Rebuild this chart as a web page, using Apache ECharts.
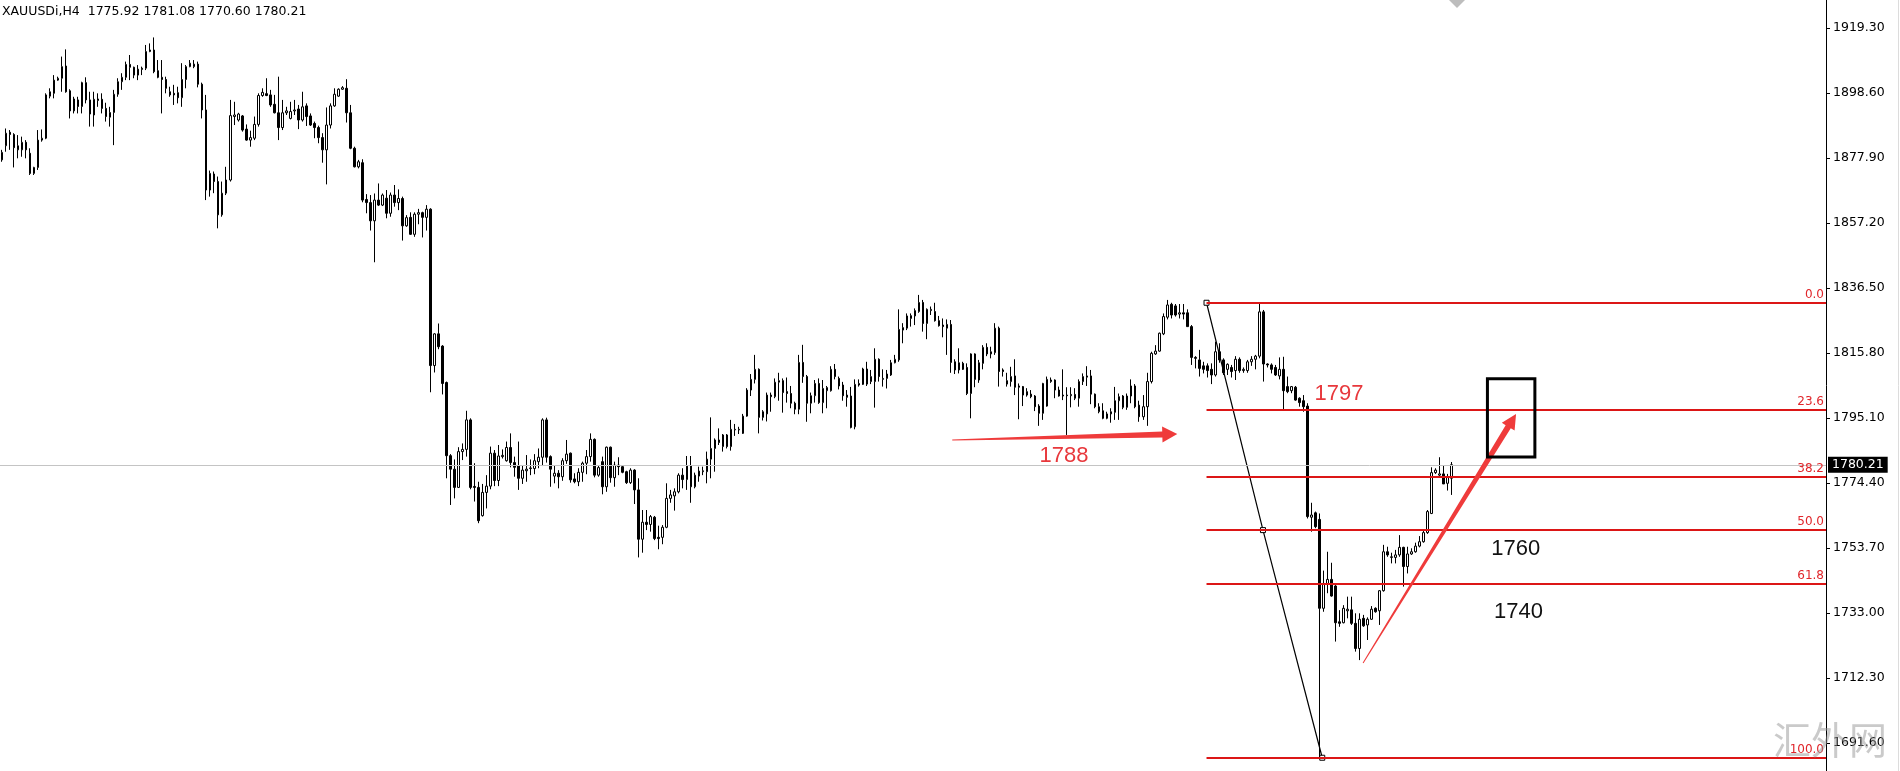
<!DOCTYPE html>
<html>
<head>
<meta charset="utf-8">
<title>XAUUSDi,H4</title>
<script src="https://cdn.jsdelivr.net/npm/echarts@6/dist/echarts.min.js"></script>
<style>
  html, body { margin: 0; padding: 0; background: #fff; }
  #chart { width: 1900px; height: 771px; }
</style>
</head>
<body>
<div id="chart"></div>
<script>
const symbolName = 'XAUUSDi,H4';

// one row per H4 bar: [open, high, low, close]
const candles = [
  [1877.3,1880.5,1876.7,1879.7],[1881.8,1887.3,1879.9,1885.8],[1886.1,1886.8,1880.5,1885.4],[1885.4,1885.8,1874.9,1881.2],[1880.5,1885.2,1877.8,1881.8],
  [1880.5,1884.7,1878.3,1882.9],[1882.9,1883.6,1877.8,1880.5],[1879.4,1881.0,1872.5,1873.0],[1873.0,1875.1,1872.5,1874.9],[1874.9,1886.8,1874.1,1883.6],
  [1883.6,1887.0,1883.1,1884.2],[1884.2,1898.5,1883.9,1898.0],[1897.6,1900.1,1896.9,1899.0],[1898.5,1904.3,1896.9,1902.7],[1902.7,1903.8,1902.5,1903.3],
  [1903.3,1910.2,1899.0,1907.0],[1907.2,1912.5,1898.7,1899.0],[1899.3,1899.8,1890.5,1892.9],[1892.9,1897.4,1892.1,1896.7],[1896.4,1897.4,1892.1,1894.3],
  [1894.3,1902.2,1892.1,1901.9],[1901.9,1903.6,1895.3,1896.4],[1896.4,1899.0,1887.9,1891.9],[1891.6,1899.0,1887.9,1896.6],[1896.2,1898.5,1894.2,1896.7],
  [1896.6,1898.5,1892.1,1893.7],[1893.7,1895.5,1889.5,1891.1],[1890.9,1894.2,1887.9,1892.4],[1892.4,1899.6,1882.0,1898.2],[1898.2,1903.3,1897.4,1902.2],
  [1902.2,1904.9,1899.6,1903.6],[1903.6,1908.6,1902.7,1907.7],[1907.7,1910.7,1902.7,1906.8],[1906.8,1907.0,1903.3,1904.3],[1904.3,1907.5,1902.7,1906.2],
  [1906.1,1907.0,1904.3,1906.5],[1906.5,1913.9,1905.9,1911.8],[1911.8,1914.4,1911.6,1912.3],[1912.3,1916.3,1904.9,1905.4],[1905.7,1909.1,1903.3,1903.6],
  [1903.6,1909.1,1892.1,1902.9],[1902.9,1903.8,1898.5,1900.1],[1899.0,1900.6,1897.4,1898.0],[1898.5,1901.2,1894.8,1898.0],[1898.7,1900.6,1895.3,1897.1],
  [1897.1,1908.1,1894.2,1902.9],[1902.9,1907.5,1900.1,1907.0],[1907.0,1909.1,1906.8,1908.1],[1907.0,1909.1,1906.5,1907.8],[1907.8,1908.6,1900.4,1901.4],
  [1901.4,1901.9,1890.5,1893.2],[1893.2,1898.0,1864.5,1867.7],[1867.7,1873.9,1865.6,1873.0],[1872.8,1873.6,1866.7,1870.4],[1870.4,1872.0,1855.5,1859.8],
  [1859.8,1870.4,1859.2,1866.7],[1866.7,1875.1,1866.1,1870.9],[1870.9,1896.4,1870.4,1891.4],[1891.1,1895.8,1888.4,1891.6],[1890.0,1892.3,1889.5,1891.9],
  [1891.3,1891.6,1886.3,1886.8],[1887.1,1888.6,1883.4,1883.6],[1883.6,1886.6,1881.5,1884.4],[1884.2,1891.1,1883.6,1888.6],[1888.6,1898.5,1887.9,1897.8],
  [1897.8,1900.1,1897.4,1898.8],[1898.4,1903.3,1897.6,1897.8],[1898.0,1899.6,1894.2,1894.8],[1895.0,1898.0,1892.1,1892.3],[1892.3,1903.8,1883.6,1887.6],
  [1887.6,1896.4,1886.8,1892.3],[1892.3,1894.2,1891.6,1892.9],[1890.5,1895.8,1890.2,1892.7],[1892.9,1896.4,1891.6,1893.2],[1893.5,1894.8,1887.1,1890.0],
  [1890.0,1899.0,1889.5,1894.2],[1894.5,1895.3,1888.1,1891.1],[1891.3,1892.1,1888.1,1888.4],[1888.9,1889.5,1884.2,1887.6],[1887.6,1888.2,1882.6,1884.4],
  [1884.4,1885.8,1876.4,1880.5],[1880.5,1894.0,1869.5,1888.4],[1888.4,1895.3,1887.3,1894.5],[1894.5,1900.1,1894.2,1898.2],[1897.6,1900.1,1897.4,1899.8],
  [1899.8,1900.8,1899.6,1900.3],[1900.1,1903.0,1889.2,1892.3],[1892.3,1894.8,1880.7,1881.0],[1881.0,1881.5,1874.9,1875.1],[1875.1,1877.3,1874.6,1876.7],
  [1876.4,1877.5,1863.8,1864.5],[1864.7,1866.4,1860.3,1863.7],[1863.7,1866.1,1854.8,1857.9],[1857.9,1866.6,1844.7,1864.5],[1864.5,1869.8,1862.6,1862.9],
  [1862.9,1866.6,1862.6,1866.1],[1865.1,1867.7,1858.7,1860.3],[1860.3,1866.9,1859.2,1866.1],[1866.1,1869.3,1862.4,1863.7],[1863.7,1867.9,1861.3,1865.0],
  [1865.0,1865.6,1851.6,1856.3],[1856.3,1859.7,1856.0,1858.9],[1859.0,1860.6,1853.4,1853.6],[1853.6,1860.6,1852.8,1860.0],[1860.0,1861.7,1856.8,1860.5],
  [1860.5,1860.8,1852.6,1859.0],[1859.0,1862.9,1854.8,1861.6],[1861.6,1861.9,1803.3,1811.8],[1811.8,1822.1,1809.6,1821.9],[1821.9,1825.2,1817.0,1817.8],
  [1818.0,1818.3,1802.6,1806.1],[1806.4,1806.7,1775.9,1783.1],[1783.1,1783.6,1767.4,1778.8],[1778.8,1781.9,1769.5,1773.0],[1773.0,1785.8,1772.8,1784.4],
  [1784.4,1787.0,1781.7,1785.1],[1785.1,1797.4,1782.8,1794.5],[1794.5,1795.0,1772.4,1773.0],[1773.3,1780.7,1768.5,1773.0],[1773.0,1774.8,1761.6,1762.4],
  [1764.0,1774.1,1763.7,1771.4],[1771.4,1776.9,1766.3,1773.4],[1773.4,1786.0,1772.4,1783.9],[1783.9,1784.9,1773.4,1775.2],[1775.2,1786.5,1773.4,1783.0],
  [1782.8,1785.1,1782.2,1783.2],[1781.5,1787.6,1781.2,1785.7],[1785.7,1790.2,1779.4,1780.9],[1780.9,1782.8,1776.4,1779.4],[1779.8,1787.6,1772.2,1775.9],
  [1775.9,1780.1,1774.1,1778.5],[1778.3,1783.3,1774.8,1778.8],[1779.0,1781.9,1776.9,1779.2],[1779.0,1783.6,1777.2,1781.5],[1781.2,1785.4,1779.1,1782.6],
  [1782.6,1795.0,1779.8,1794.5],[1794.5,1795.2,1780.9,1782.6],[1782.8,1783.2,1773.2,1778.8],[1776.6,1780.1,1774.3,1777.5],[1777.5,1778.5,1772.7,1776.4],
  [1776.4,1782.3,1775.1,1781.5],[1781.5,1788.1,1780.5,1783.6],[1783.9,1784.1,1774.5,1775.4],[1775.7,1777.5,1774.3,1774.8],[1774.8,1779.1,1773.4,1777.8],
  [1777.8,1781.2,1774.8,1780.7],[1780.7,1784.9,1777.2,1782.8],[1782.8,1790.2,1781.2,1788.3],[1788.3,1788.6,1776.2,1776.9],[1776.9,1780.1,1776.4,1779.3],
  [1781.2,1782.8,1770.8,1773.2],[1773.2,1786.0,1771.6,1785.8],[1785.8,1786.0,1774.5,1776.1],[1776.1,1781.2,1773.2,1780.1],[1780.1,1782.6,1776.9,1779.6],
  [1779.6,1780.1,1777.5,1777.8],[1778.0,1778.3,1774.1,1774.5],[1774.5,1779.1,1774.1,1778.5],[1778.5,1778.8,1767.7,1772.2],[1772.2,1775.9,1750.7,1756.5],
  [1756.5,1765.8,1752.2,1761.9],[1761.9,1765.8,1759.4,1761.2],[1761.2,1764.2,1758.9,1763.7],[1763.5,1763.9,1756.2,1756.7],[1757.1,1760.8,1753.3,1756.7],
  [1757.1,1761.0,1754.9,1760.3],[1760.3,1774.3,1760.0,1769.5],[1769.5,1772.2,1768.1,1770.6],[1770.3,1772.7,1765.6,1771.6],[1771.6,1777.5,1771.1,1776.9],
  [1776.9,1779.1,1772.7,1775.5],[1775.5,1783.0,1772.2,1779.8],[1779.8,1783.0,1768.1,1773.2],[1773.2,1777.7,1772.7,1776.9],[1776.6,1779.6,1774.8,1778.2],
  [1778.0,1779.6,1776.9,1778.3],[1778.0,1784.4,1774.3,1782.0],[1782.0,1795.3,1775.9,1785.4],[1785.4,1788.6,1778.0,1788.1],[1788.1,1791.8,1786.5,1787.3],
  [1786.0,1790.0,1784.4,1789.7],[1789.7,1790.0,1785.4,1786.0],[1786.0,1794.5,1784.7,1791.5],[1791.3,1793.2,1789.4,1791.5],[1791.3,1792.3,1790.0,1791.5],
  [1790.2,1796.4,1790.0,1795.7],[1795.7,1804.6,1795.5,1804.0],[1804.0,1809.1,1802.1,1807.4],[1807.4,1815.2,1806.1,1810.6],[1810.6,1810.9,1790.2,1795.3],
  [1795.3,1797.6,1794.3,1797.1],[1796.4,1803.2,1794.0,1802.4],[1802.4,1803.2,1797.1,1801.9],[1801.9,1807.7,1801.4,1806.5],[1806.5,1809.5,1800.6,1807.0],
  [1807.0,1807.7,1796.8,1803.2],[1803.5,1808.0,1800.0,1802.9],[1802.9,1805.3,1798.2,1799.8],[1799.8,1800.3,1796.3,1797.9],[1797.9,1815.2,1796.3,1812.8],
  [1812.8,1818.4,1806.3,1808.3],[1808.3,1808.8,1793.9,1799.8],[1799.8,1803.2,1796.6,1802.2],[1802.2,1807.2,1800.0,1806.1],[1806.1,1807.7,1799.6,1800.0],
  [1800.0,1807.2,1796.6,1804.5],[1803.8,1805.3,1798.2,1804.8],[1803.8,1811.6,1803.5,1810.6],[1810.6,1812.3,1807.4,1808.3],[1807.7,1808.3,1804.2,1805.3],
  [1805.6,1806.6,1800.6,1802.2],[1802.4,1804.0,1798.7,1801.7],[1802.1,1805.0,1791.8,1792.1],[1792.3,1807.4,1791.5,1805.8],[1805.6,1807.4,1805.1,1806.1],
  [1805.8,1811.1,1805.6,1810.7],[1810.7,1813.0,1805.3,1805.9],[1806.7,1810.4,1805.9,1808.3],[1806.7,1817.3,1798.4,1813.8],[1813.8,1814.1,1806.7,1808.3],
  [1807.4,1810.6,1805.1,1807.7],[1807.7,1810.4,1804.5,1809.1],[1808.8,1813.6,1808.5,1812.7],[1812.7,1815.2,1812.5,1813.8],[1813.6,1829.7,1813.0,1823.3],
  [1823.1,1825.3,1818.9,1823.9],[1823.7,1828.4,1823.1,1827.6],[1826.8,1828.4,1824.2,1827.7],[1827.6,1830.0,1824.7,1829.3],[1829.0,1834.3,1828.6,1831.9],
  [1831.9,1832.7,1822.6,1825.2],[1825.2,1830.0,1820.2,1829.7],[1829.3,1830.6,1827.9,1829.7],[1829.0,1831.8,1825.8,1826.1],[1826.1,1827.6,1824.2,1824.5],
  [1824.7,1826.8,1820.8,1824.2],[1823.7,1826.5,1815.2,1824.9],[1824.9,1826.3,1809.5,1812.8],[1813.0,1813.8,1809.1,1810.4],[1810.4,1817.3,1809.3,1812.7],
  [1812.5,1813.0,1810.4,1810.6],[1811.2,1812.5,1802.4,1802.9],[1802.9,1815.7,1795.0,1815.5],[1815.5,1815.7,1804.9,1807.4],[1807.2,1813.6,1806.3,1812.7],
  [1812.5,1818.3,1810.6,1817.6],[1817.6,1818.9,1814.8,1815.5],[1815.5,1817.8,1814.1,1816.2],[1815.9,1825.3,1815.2,1823.7],[1823.7,1824.2,1805.1,1809.9],
  [1810.4,1810.9,1808.3,1809.9],[1805.9,1809.5,1805.1,1807.0],[1806.7,1811.4,1805.1,1808.3],[1808.5,1813.8,1802.4,1804.9],[1805.3,1806.1,1794.7,1804.9],
  [1805.1,1805.3,1798.9,1802.4],[1802.4,1804.6,1801.9,1803.5],[1802.7,1804.0,1801.4,1801.9],[1802.1,1802.4,1797.3,1798.7],[1798.9,1799.5,1792.6,1796.6],
  [1796.6,1806.3,1794.5,1806.1],[1798.9,1808.3,1798.7,1807.4],[1806.7,1808.0,1806.3,1807.2],[1807.2,1807.4,1801.4,1804.0],[1804.0,1805.1,1801.9,1802.1],
  [1802.1,1810.6,1800.8,1802.4],[1802.4,1804.9,1789.7,1802.2],[1802.2,1804.9,1798.5,1802.6],[1802.6,1804.6,1800.8,1801.4],[1801.4,1807.4,1798.7,1806.7],
  [1806.7,1809.3,1805.6,1808.3],[1808.1,1811.6,1805.3,1808.5],[1808.5,1810.4,1799.5,1802.7],[1802.7,1802.9,1798.2,1798.7],[1797.1,1799.8,1796.6,1798.7],
  [1797.4,1799.8,1794.7,1795.0],[1795.0,1797.1,1794.7,1796.4],[1796.4,1798.2,1793.6,1797.1],[1796.9,1805.0,1794.5,1800.6],[1800.6,1802.9,1794.5,1801.9],
  [1802.1,1802.4,1797.9,1798.5],[1798.5,1802.9,1797.7,1802.1],[1802.1,1807.4,1799.8,1805.3],[1805.3,1805.9,1798.2,1798.7],[1799.2,1800.6,1793.9,1795.5],
  [1795.5,1802.4,1794.5,1798.7],[1798.7,1809.5,1792.6,1806.7],[1806.7,1816.2,1806.1,1815.7],[1815.5,1818.3,1815.2,1816.4],[1816.4,1822.3,1816.2,1822.1],
  [1821.9,1828.4,1821.5,1827.4],[1827.2,1832.7,1826.5,1831.1],[1831.3,1831.8,1826.8,1827.9],[1830.8,1831.4,1827.4,1827.9],[1828.2,1831.4,1826.8,1828.6],
  [1828.6,1831.4,1826.5,1828.2],[1828.6,1829.7,1824.2,1824.2],[1824.2,1824.7,1812.0,1814.4],[1814.4,1814.8,1810.9,1814.1],[1813.6,1816.8,1808.3,1810.9],
  [1811.7,1813.0,1809.3,1810.6],[1811.7,1812.5,1808.0,1810.2],[1810.6,1812.5,1805.9,1808.8],[1808.8,1819.4,1808.3,1816.2],[1816.2,1818.9,1812.7,1813.6],
  [1813.6,1814.1,1808.8,1809.5],[1810.6,1812.5,1808.8,1812.2],[1811.2,1812.0,1808.0,1809.9],[1810.2,1814.8,1807.2,1813.8],[1813.8,1814.4,1809.5,1810.2],
  [1810.2,1811.2,1809.5,1810.6],[1810.2,1813.6,1809.5,1813.0],[1813.0,1814.8,1811.7,1813.8],[1813.8,1815.2,1810.6,1814.8],[1814.8,1831.8,1814.1,1828.9],
  [1828.9,1829.5,1806.7,1812.3],[1812.3,1812.5,1811.2,1812.0],[1812.0,1812.5,1809.3,1810.6],[1811.2,1812.0,1808.5,1808.8],[1808.5,1814.4,1807.4,1810.6],
  [1810.6,1814.6,1797.9,1803.8],[1805.1,1808.3,1803.0,1803.5],[1803.8,1805.3,1803.0,1805.1],[1804.9,1805.3,1800.6,1800.8],[1801.4,1801.7,1798.7,1800.0],
  [1800.6,1802.4,1797.1,1798.7],[1798.9,1799.8,1763.1,1763.7],[1763.5,1768.1,1758.9,1764.2],[1764.9,1765.3,1760.0,1760.5],[1762.8,1764.7,1686.9,1734.5],
  [1734.5,1746.5,1733.4,1742.4],[1742.4,1752.5,1739.3,1743.7],[1743.7,1749.0,1738.2,1738.4],[1741.6,1741.9,1723.9,1729.9],[1730.2,1733.9,1728.6,1729.7],
  [1729.9,1735.5,1729.7,1734.5],[1733.7,1738.2,1731.3,1734.2],[1734.0,1738.2,1729.2,1729.7],[1729.7,1732.9,1720.7,1721.7],[1721.7,1732.9,1718.0,1731.0],
  [1731.3,1732.4,1728.6,1728.9],[1729.2,1731.6,1724.4,1731.0],[1731.0,1735.2,1730.8,1734.2],[1734.5,1734.8,1733.1,1733.4],[1733.7,1740.3,1729.2,1740.1],
  [1740.1,1754.7,1739.8,1752.5],[1752.5,1754.1,1750.9,1751.5],[1750.7,1752.2,1748.8,1750.9],[1750.7,1753.1,1748.8,1751.5],[1751.5,1757.8,1750.9,1753.9],
  [1753.9,1754.1,1741.4,1747.8],[1747.8,1754.1,1745.6,1751.8],[1751.8,1753.6,1751.5,1752.5],[1752.5,1755.4,1752.2,1754.3],[1754.3,1757.5,1753.9,1755.7],
  [1755.7,1759.6,1755.4,1758.6],[1758.6,1765.8,1758.2,1765.3],[1764.7,1779.4,1764.5,1777.7],[1777.7,1779.1,1777.3,1778.5],[1776.9,1782.6,1776.4,1777.3],
  [1777.3,1780.1,1774.1,1774.1],[1774.3,1777.3,1772.0,1776.4],[1775.92,1781.08,1770.60,1780.21]
];

// the chart keeps empty room on the right of the last bar
const slotCount = 456;
const categories = Array.from({ length: slotCount }, (_, i) => String(i));

const priceTicks = [1691.60, 1712.30, 1733.00, 1753.70, 1774.40, 1795.10, 1815.80, 1836.50, 1857.20, 1877.90, 1898.60, 1919.30];
const priceMin = 1682.68;
const priceMax = 1928.22;
const lastPrice = 1780.21;

// fibonacci retracement drawn over the last swing
const fibLabels = ['0.0', '23.6', '38.2', '50.0', '61.8', '100.0'];
const fibPrices = [1831.8, 1797.6, 1776.4, 1759.4, 1742.2, 1686.9];
const fibStartBar = 300.8;
const fibTrend = [[300.8, 1831.8], [314.9, 1759.4], [329.7, 1686.9]];

// hand-drawn notes, in [bar, price]
const arrowFrom = [[237.3, 1788.1], [339.9, 1717.1]];
const arrowTo = [[293.5, 1790.0], [378.1, 1796.4]];
const boxCorners = [[370.95, 1807.6], [382.8, 1782.7]];
const noteTexts = ['1797', '1788', '1760', '1740'];
const notePlaces = [[333.9, 1802.7], [265.2, 1783.0], [378.0, 1753.4], [378.7, 1733.3]];
const noteColors = ['#e8383c', '#e8383c', '#111', '#111'];

const last = candles[candles.length - 1];
const titleText = symbolName + '  ' + last.map(v => v.toFixed(2)).join(' ');

const fibRed = '#dc1616';
const chart = echarts.init(document.getElementById('chart'));

chart.setOption({
  animation: false,
  backgroundColor: '#fff',
  title: {
    text: titleText,
    left: 2,
    top: 5,
    padding: 0,
    textStyle: { fontFamily: 'DejaVu Sans', fontSize: 12.5, fontWeight: 'normal', color: '#000' }
  },
  grid: { left: 0, right: 74, top: 0, bottom: 0 },
  xAxis: [
    { type: 'category', data: categories, boundaryGap: true, show: false },
    { type: 'value', min: -0.5, max: slotCount - 0.5, show: false }
  ],
  yAxis: {
    type: 'value',
    position: 'right',
    min: priceMin,
    max: priceMax,
    splitLine: { show: false },
    axisLine: { show: true, onZero: false, lineStyle: { color: '#000', width: 1 } },
    axisTick: { show: true, inside: false, length: 4, lineStyle: { color: '#000' }, customValues: priceTicks },
    axisLabel: {
      customValues: priceTicks,
      formatter: v => v.toFixed(2),
      color: '#000',
      fontFamily: 'DejaVu Sans',
      fontSize: 12.5,
      margin: 7
    }
  },
  series: [
    {
      type: 'candlestick',
      z: 3,
      barWidth: 2,
      data: candles.map(c => [c[0], c[3], c[2], c[1]]),
      itemStyle: {
        color: '#fff',
        color0: '#000',
        borderColor: '#000',
        borderColor0: '#000',
        borderWidth: 1
      },
      emphasis: { disabled: true },
      markLine: {
        silent: true,
        symbol: ['none', 'none'],
        lineStyle: { color: '#c4c4c4', width: 1, type: 'solid' },
        label: {
          show: true,
          position: 'end',
          distance: 2,
          formatter: lastPrice.toFixed(2),
          color: '#fff',
          backgroundColor: '#000',
          padding: [2, 4, 1, 4],
          fontFamily: 'DejaVu Sans',
          fontSize: 12.5
        },
        data: [{ yAxis: lastPrice }]
      }
    },
    {
      type: 'line',
      xAxisIndex: 1,
      z: 2,
      data: fibTrend,
      symbol: 'rect',
      symbolSize: 5,
      lineStyle: { color: '#000', width: 1.2 },
      itemStyle: { color: '#fff', borderColor: '#000', borderWidth: 1 },
      emphasis: { disabled: true },
      silent: true,
      markLine: {
        silent: true,
        symbol: ['none', 'none'],
        lineStyle: { color: fibRed, width: 2, type: 'solid' },
        label: {
          show: true,
          position: 'insideEndTop',
          distance: 2,
          color: '#e0262b',
          fontFamily: 'DejaVu Sans',
          fontSize: 12
        },
        data: fibPrices.map((p, k) => [
          { coord: [fibStartBar, p], label: { formatter: fibLabels[k] } },
          { coord: [slotCount - 0.5, p] }
        ])
      }
    }
  ]
});

const toPx = p => chart.convertToPixel({ seriesIndex: 1 }, p);

function arrowPoints(from, to, tailW, shaftW, headW, headLen) {
  const a = toPx(from), b = toPx(to);
  const dx = b[0] - a[0], dy = b[1] - a[1];
  const len = Math.hypot(dx, dy);
  const ux = dx / len, uy = dy / len, nx = -uy, ny = ux;
  const bx = b[0] - ux * headLen, by = b[1] - uy * headLen;
  return [
    [a[0] + nx * tailW / 2, a[1] + ny * tailW / 2],
    [bx + nx * shaftW / 2, by + ny * shaftW / 2],
    [bx + nx * headW / 2, by + ny * headW / 2],
    [b[0], b[1]],
    [bx - nx * headW / 2, by - ny * headW / 2],
    [bx - nx * shaftW / 2, by - ny * shaftW / 2],
    [a[0] - nx * tailW / 2, a[1] - ny * tailW / 2]
  ];
}

const graphics = [];
graphics.push({ type: 'polygon', z: 50, shape: { points: arrowPoints(arrowFrom[0], arrowTo[0], 1, 6, 16, 15) }, style: { fill: '#ef3b3b' } });
graphics.push({ type: 'polygon', z: 50, shape: { points: arrowPoints(arrowFrom[1], arrowTo[1], 1, 6, 15, 15) }, style: { fill: '#ef3b3b' } });

const b0 = toPx(boxCorners[0]), b1 = toPx(boxCorners[1]);
graphics.push({
  type: 'rect', z: 50,
  shape: { x: b0[0], y: b0[1], width: b1[0] - b0[0], height: b1[1] - b0[1] },
  style: { fill: 'none', stroke: '#000', lineWidth: 3 }
});

noteTexts.forEach((t, k) => {
  const p = toPx(notePlaces[k]);
  graphics.push({
    type: 'text', z: 50, x: p[0], y: p[1],
    style: {
      text: t, fill: noteColors[k],
      font: '22px "Liberation Sans", Arial, sans-serif',
      align: 'center', verticalAlign: 'middle'
    }
  });
});

// watermark pieces and the window border
graphics.push({
  type: 'text', z: 60, x: 1830, y: 740,
  style: {
    text: '汇外网', fill: 'rgba(150,150,150,0.5)',
    font: '38px "Noto Sans CJK SC", sans-serif',
    align: 'center', verticalAlign: 'middle'
  }
});
graphics.push({ type: 'polygon', z: 60, shape: { points: [[1449, 0], [1465, 0], [1457, 8]] }, style: { fill: '#bdbdbd' } });
graphics.push({ type: 'line', z: 60, shape: { x1: 1898.5, y1: 0, x2: 1898.5, y2: 771 }, style: { stroke: '#dcdcdc', lineWidth: 1 } });

chart.setOption({ graphic: graphics });
</script>
</body>
</html>
